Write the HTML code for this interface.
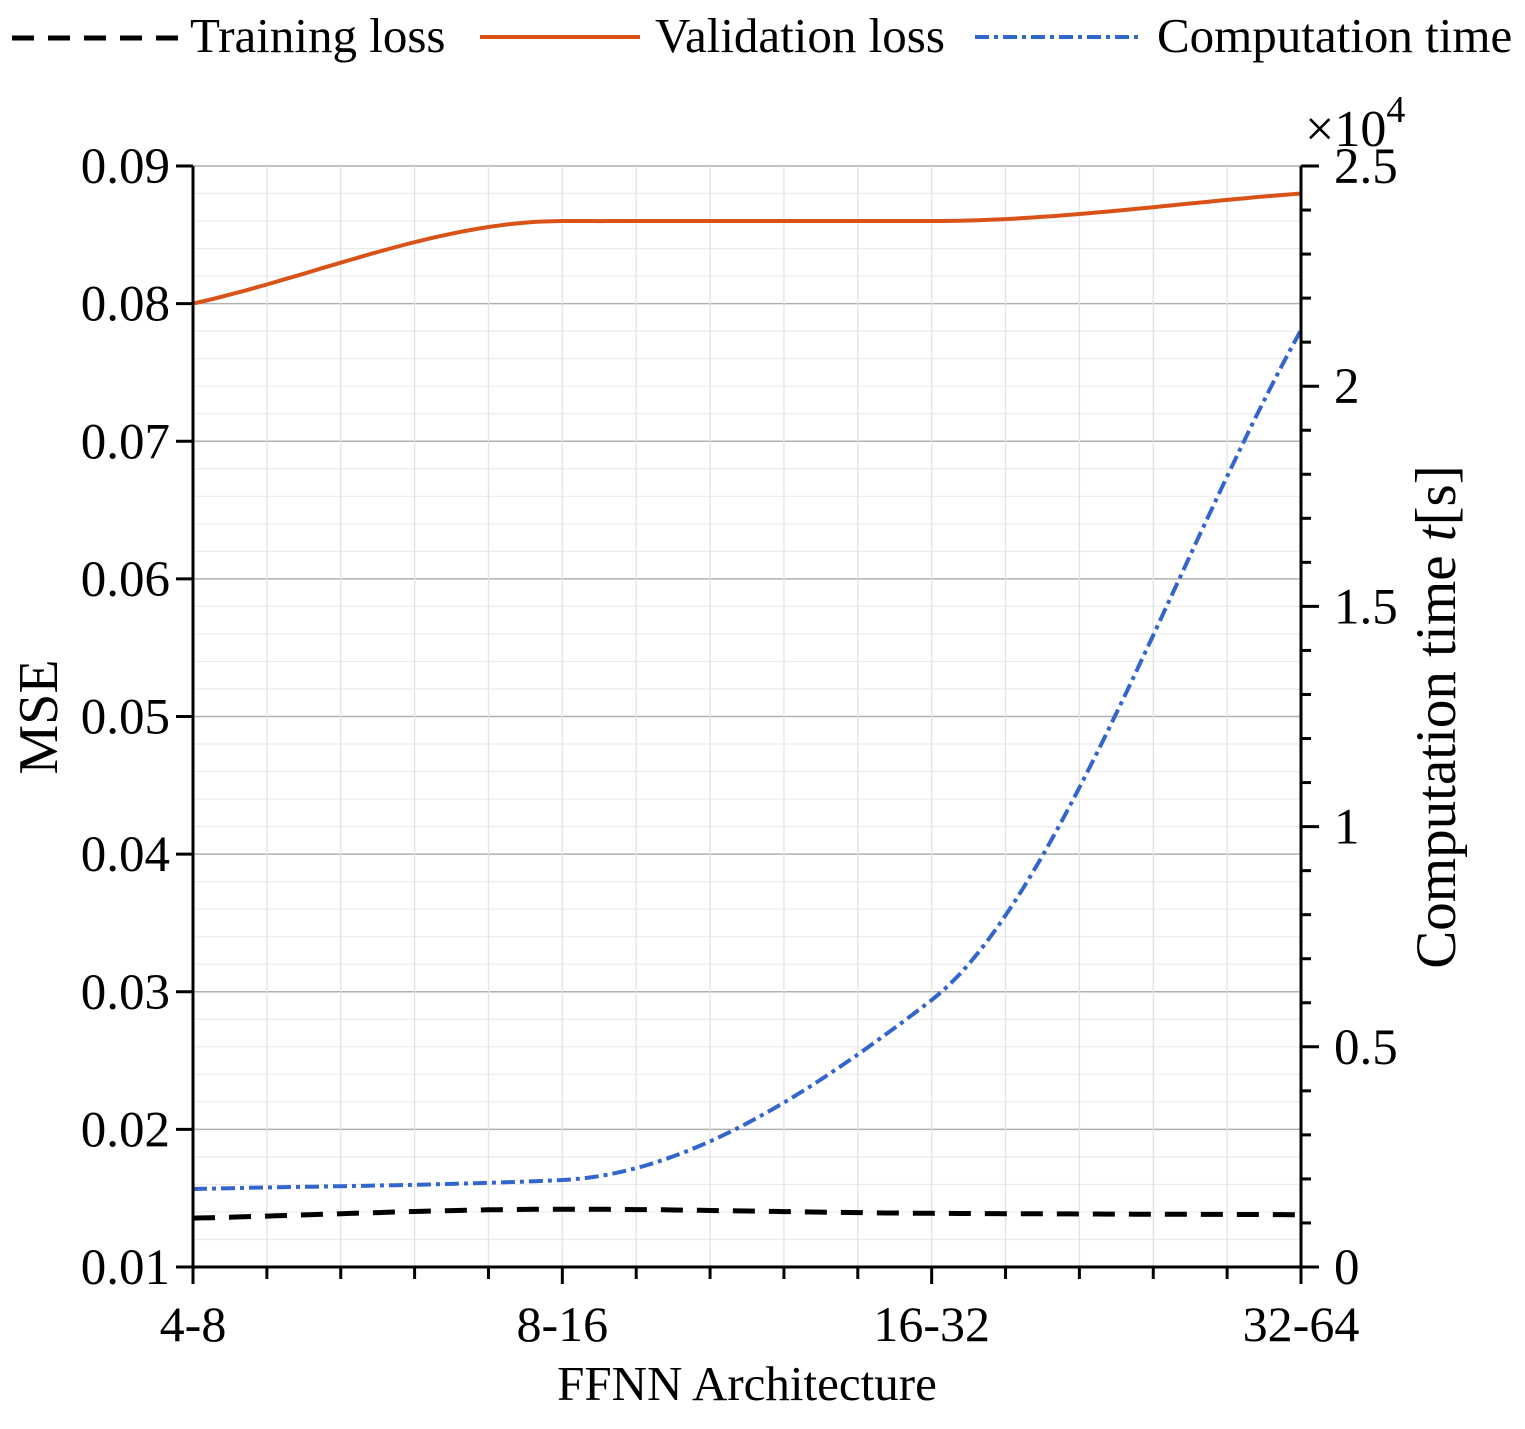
<!DOCTYPE html>
<html><head><meta charset="utf-8"><style>
body{margin:0;background:#fff}
svg text{font-family:"Liberation Serif",serif;fill:#000}
</style></head><body>
<svg id="chart" width="1525" height="1424" xmlns="http://www.w3.org/2000/svg">
<g id="grid"></g>
<g id="series"></g>
<g id="axes"></g>
<g>
<g>
<line x1="12" y1="38" x2="180" y2="38" stroke="#000" stroke-width="5" stroke-dasharray="22,14"/>
<text x="190" y="52" font-size="49">Training loss</text></g>
<g>
<line x1="480" y1="37" x2="640" y2="37" stroke="#D95319" stroke-width="4"/>
<text x="655" y="52" font-size="49">Validation loss</text></g>
<g>
<line x1="975" y1="37" x2="1142" y2="37" stroke="#3366CC" stroke-width="4" stroke-dasharray="14,5,4,5"/>
<text x="1157" y="52" font-size="49">Computation time</text></g>
</g>
<text x="747" y="1400" font-size="49" text-anchor="middle">FFNN Architecture</text>
<text transform="translate(57,717) rotate(-90)" font-size="56" text-anchor="middle">MSE</text>
<text transform="translate(1455,717) rotate(-90)" font-size="57" text-anchor="middle">Computation time <tspan font-style="italic">t</tspan>[s]</text>
<text x="1305" y="146" font-size="52">×10<tspan dy="-24" font-size="38">4</tspan></text>
</svg>
<script>
const categories=["4-8","8-16","16-32","32-64"];
const trainingLoss=[0.01355,0.0142,0.0139,0.0138];
const validationLoss=[0.0800,0.0860,0.0860,0.0880];
const computationTime=[1771,1976,6063,21276];
const yTicks=[0.01,0.02,0.03,0.04,0.05,0.06,0.07,0.08,0.09];
const y2Ticks=[0,0.5,1,1.5,2,2.5];
const y2TickLabels=["0","0.5","1","1.5","2","2.5"];

const L=193,R=1301,T=166,B=1267;
const NS="http://www.w3.org/2000/svg";
const xS=i=>L+(R-L)*i/(categories.length-1);
const yS=v=>B-(v-0.01)/(0.08)*(B-T);
const y2S=v=>B-v/25000*(B-T);
function mk(tag,attrs,parent){const e=document.createElementNS(NS,tag);for(const k in attrs)e.setAttribute(k,attrs[k]);parent.appendChild(e);return e;}
const grid=document.getElementById('grid'),axes=document.getElementById('axes'),series=document.getElementById('series');
for(let k=0;k<=40;k++){const v=0.01+k*0.002;const y=yS(v);const major=k%5===0;
 const l=mk('line',{x1:L,x2:R,y1:y,y2:y,stroke:major?'#b0b0b0':'#ebebeb','stroke-width':major?1.5:1.2},grid);
 
 }
const nx=(categories.length-1)*5;
for(let k=0;k<=nx;k++){const x=L+(R-L)*k/nx;const major=k%5===0;
 const l=mk('line',{x1:x,x2:x,y1:T,y2:B,stroke:'#e3e3e3','stroke-width':1.3},grid);
 
 
 const t=mk('line',{x1:x,x2:x,y1:B,y2:B+(major?17:12),stroke:'#000','stroke-width':3},axes);
 
 }
const ax1=mk('line',{x1:L,x2:L,y1:T,y2:B+2,stroke:'#000','stroke-width':3},axes);


const ax2=mk('line',{x1:R,x2:R,y1:T,y2:B+2,stroke:'#000','stroke-width':3},axes);


const ax3=mk('line',{x1:L-17,x2:R,y1:B,y2:B,stroke:'#000','stroke-width':3},axes);


categories.forEach((c,i)=>{const t=mk('text',{x:xS(i),y:B+74,'font-size':50,'text-anchor':'middle'},axes);t.textContent=c;
 
 });
yTicks.forEach(v=>{const y=yS(v);
 const t=mk('line',{x1:L-17,x2:L,y1:y,y2:y,stroke:'#000','stroke-width':3},axes);
 
 
 const tx=mk('text',{x:L-23,y:y+17,'font-size':51,'text-anchor':'end'},axes);tx.textContent=v.toFixed(2);
 
 });
for(let k=0;k<=25;k++){const y=y2S(k*1000);const major=k%5===0;
 const t=mk('line',{x1:R,x2:R+(major?18:10),y1:y,y2:y,stroke:'#000','stroke-width':3},axes);
 
 }
y2Ticks.forEach((v,i)=>{const tx=mk('text',{x:R+33,y:y2S(v*10000)+17,'font-size':51},axes);tx.textContent=y2TickLabels[i];
 
 });
function pchip(ys){const n=ys.length,d=[];for(let i=0;i<n-1;i++)d.push(ys[i+1]-ys[i]);
 const m=new Array(n);m[0]=d[0];m[n-1]=d[n-2];
 for(let i=1;i<n-1;i++){m[i]=(d[i-1]*d[i]<=0)?0:2/(1/d[i-1]+1/d[i]);}
 const out=[];for(let i=0;i<n-1;i++){for(let s=0;s<40;s++){const t=s/40;const t2=t*t,t3=t2*t;
  out.push([i+t,(2*t3-3*t2+1)*ys[i]+(t3-2*t2+t)*m[i]+(-2*t3+3*t2)*ys[i+1]+(t3-t2)*m[i+1]]);}}
 out.push([n-1,ys[n-1]]);return out;}
function path(ys,sy){return pchip(ys).map((p,i)=>(i?'L':'M')+(L+(R-L)*p[0]/(categories.length-1)).toFixed(1)+','+sy(p[1]).toFixed(1)).join('');}
const p1=mk('path',{d:path(trainingLoss,yS),fill:'none',stroke:'#000','stroke-width':5,'stroke-dasharray':'22,14'},series);


const p2=mk('path',{d:path(validationLoss,yS),fill:'none',stroke:'#D95319','stroke-width':4},series);


const p3=mk('path',{d:path(computationTime,y2S),fill:'none',stroke:'#3366CC','stroke-width':4,'stroke-dasharray':'14,5,4,5'},series);


</script>
</body></html>
